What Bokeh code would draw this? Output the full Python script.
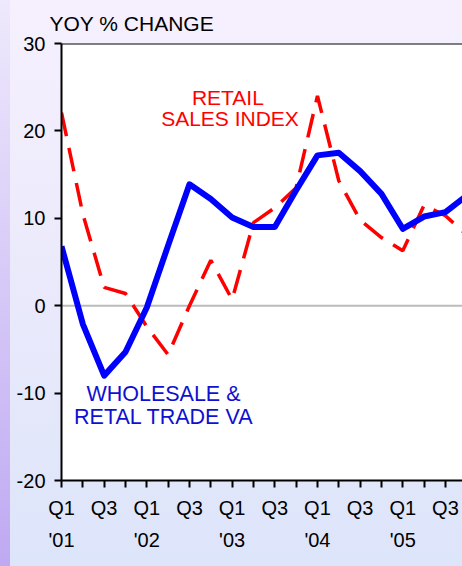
from bokeh.plotting import figure
from bokeh.models import FixedTicker, LinearAxis, Span, Range1d
from bokeh.core.properties import value
from bokeh.embed import file_html
from bokeh.resources import INLINE

# ---- data -------------------------------------------------------------
quarter_index = list(range(20))
quarter_names = ["Q1", "Q2", "Q3", "Q4"] * 5
year_ticks = [0, 4, 8, 12, 16]
year_labels = ["'01", "'02", "'03", "'04", "'05"]
y_ticks = [-20, -10, 0, 10, 20, 30]
y_tick_labels = ["-20", "-10", "0", "10", "20", "30"]

wholesale_retail_va = [6.8, -2.1, -8.0, -5.3, -0.2, 6.9, 13.9, 12.2, 10.1, 9.0,
                       9.0, 13.2, 17.2, 17.5, 15.4, 12.8, 8.8, 10.2, 10.7, 12.6]
retail_sales_index = [22.1, 10.5, 2.1, 1.4, -2.4, -5.6, 0.0, 5.2, 0.7, 9.5,
                      11.2, 13.5, 24.0, 14.3, 9.8, 7.8, 6.3, 11.5, 10.3, 8.1]

red_label_lines = ["RETAIL", "SALES INDEX"]
blue_label_lines = ["WHOLESALE &", "RETAL TRADE VA"]

FONT = "Liberation Sans"

# ---- figure -----------------------------------------------------------
p = figure(width=462, height=566,
           x_range=Range1d(0, 18.8), y_range=Range1d(-20, 30),
           output_backend="svg", toolbar_location=None,
           min_border_left=61, min_border_right=0,
           min_border_top=43, min_border_bottom=86,
           title="YOY % CHANGE")

p.background_fill_color = "white"
p.border_fill_color = None
p.outline_line_color = None
p.styles = {
    "background": "linear-gradient(to bottom, #EEE9FC, #BFA9F2) left top / 10px 100% no-repeat, "
                  "linear-gradient(to bottom, #F6F0FE, #E9E9FB 55%, #DDE5FA)"
}
p.xgrid.grid_line_color = None
p.ygrid.grid_line_color = None

p.title.text_font = FONT
p.title.text_font_size = "21px"
p.title.text_font_style = "normal"
p.title.text_color = "black"
p.title.align = "left"
p.title.offset = -12
p.title.standoff = 18

# y axis
ya = p.yaxis[0]
ya.ticker = FixedTicker(ticks=y_ticks)
ya.major_label_overrides = {t: l for t, l in zip(y_ticks, y_tick_labels)}
ya.minor_tick_line_color = None
ya.major_tick_in = 0
ya.major_tick_out = 7
ya.major_tick_line_width = 2
ya.major_tick_line_color = "black"
ya.axis_line_width = 2
ya.axis_line_color = "black"
ya.major_label_text_font = FONT
ya.major_label_text_font_size = "20px"
ya.major_label_text_color = "black"
ya.major_label_standoff = 9

# x axis (quarters)
xa = p.xaxis[0]
xa.ticker = FixedTicker(ticks=quarter_index)
xa.major_label_overrides = {i: (quarter_names[i] if i % 2 == 0 else "") for i in quarter_index}
xa.minor_tick_line_color = None
xa.major_tick_in = 0
xa.major_tick_out = 7
xa.major_tick_line_width = 2
xa.major_tick_line_color = "black"
xa.axis_line_width = 2
xa.axis_line_color = "black"
xa.major_label_text_font = FONT
xa.major_label_text_font_size = "20px"
xa.major_label_text_color = "black"
xa.major_label_standoff = 9

# second axis for years
ya2 = LinearAxis(ticker=FixedTicker(ticks=year_ticks),
                 major_label_overrides={t: l for t, l in zip(year_ticks, year_labels)},
                 axis_line_color=None, major_tick_line_color=None,
                 minor_tick_line_color=None,
                 major_label_text_font=FONT, major_label_text_font_size="20px",
                 major_label_text_color="black", major_label_standoff=1)
p.add_layout(ya2, "below")

# zero line and top border
p.add_layout(Span(location=0, dimension="width", line_color="#BBBBBB",
                  line_width=2, level="underlay"))
p.add_layout(Span(location=30, dimension="width", line_color="black", line_width=2))

# series
p.line(quarter_index, retail_sales_index, line_color="#FF0000", line_width=3.5,
       line_dash="24 12")
p.line(quarter_index, wholesale_retail_va, line_color="#0000FF", line_width=6,
       line_join="round")

# annotations
p.text(x=[7.8, 7.9], y=[23.86, 21.4], text=red_label_lines,
       text_font=value(FONT), text_font_size="21px", text_color="#FF0000",
       text_align="center", text_baseline="alphabetic")
p.text(x=[4.78, 4.8], y=[-10.16, -12.75], text=blue_label_lines,
       text_font=value(FONT), text_font_size="21.5px", text_color="#1010D0",
       text_align="center", text_baseline="alphabetic")

open("out.html", "w").write(file_html(p, INLINE))
